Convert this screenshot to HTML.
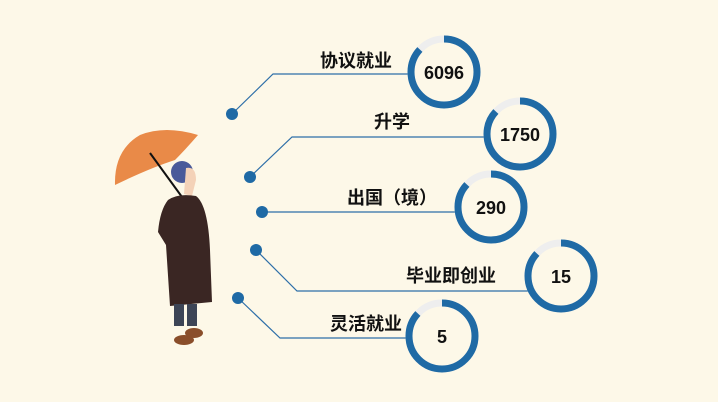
<!DOCTYPE html>
<html><head><meta charset="utf-8"><style>
html,body{margin:0;padding:0;background:#fdf8e8;}
svg{display:block;}
text{font-family:"Liberation Sans","Noto Sans CJK SC",sans-serif;font-weight:bold;fill:#111;}
</style></head><body>
<svg width="718" height="402" viewBox="0 0 718 402">
<rect width="718" height="402" fill="#fdf8e8"/>
<!-- person -->
<g>
<path d="M115,185 Q114,150 140,135 Q165,125 198,135 Q185,150 175,160 Q150,168 115,185Z" fill="#e98a48"/>
<path d="M150,153 L190,208" stroke="#111" stroke-width="2"/>
<circle cx="182" cy="172" r="11" fill="#4a5a9a"/>
<path d="M186,168 Q196,166 196,180 L192,196 L184,194Z" fill="#f4d2b8"/>
<path d="M168,200 Q178,193 196,196 Q208,205 210,250 L212,302 L170,306 L166,245 L158,232 Q160,210 168,200 Z" fill="#3a2623"/>
<rect x="174" y="304" width="10" height="22" fill="#3d4556"/>
<rect x="187" y="304" width="10" height="22" fill="#3d4556"/>
<ellipse cx="184" cy="340" rx="10" ry="5" fill="#8a4e2a"/>
<ellipse cx="194" cy="333" rx="9" ry="5" fill="#8a4e2a"/>
</g>
<g stroke="#2e6fa8" stroke-width="1.2" fill="none">
<polyline points="232,114 273,74 410,74"/>
<polyline points="250,177 292,137 488,137"/>
<polyline points="262,212 460,212"/>
<polyline points="256,250 297,291 530,291"/>
<polyline points="238,298 280,338 410,338"/>
</g>
<g fill="#1f6aa5">
<circle cx="232" cy="114" r="6"/>
<circle cx="250" cy="177" r="6"/>
<circle cx="262" cy="212" r="6"/>
<circle cx="256" cy="250" r="6"/>
<circle cx="238" cy="298" r="6"/>
</g>
<defs>
<g id="ring">
<circle r="33" fill="#fdf8e8" stroke="#eeeeee" stroke-width="7"/>
<circle r="33" fill="none" stroke="#1f6aa5" stroke-width="7" stroke-dasharray="180 300" transform="rotate(-90)"/>
</g>
</defs>
<use href="#ring" x="444" y="72"/>
<use href="#ring" x="520" y="134"/>
<use href="#ring" x="491" y="207"/>
<use href="#ring" x="561" y="276"/>
<use href="#ring" x="442" y="336"/>
<g font-size="18" text-anchor="middle">
<text x="444" y="79">6096</text>
<text x="520" y="141">1750</text>
<text x="491" y="214">290</text>
<text x="561" y="283">15</text>
<text x="442" y="343">5</text>
</g>
<g font-size="18" text-anchor="middle">
<text x="356" y="67">协议就业</text>
<text x="392" y="128">升学</text>
<text x="392" y="204">出国（境）</text>
<text x="451" y="282">毕业即创业</text>
<text x="366" y="330">灵活就业</text>
</g>
</svg>
</body></html>
